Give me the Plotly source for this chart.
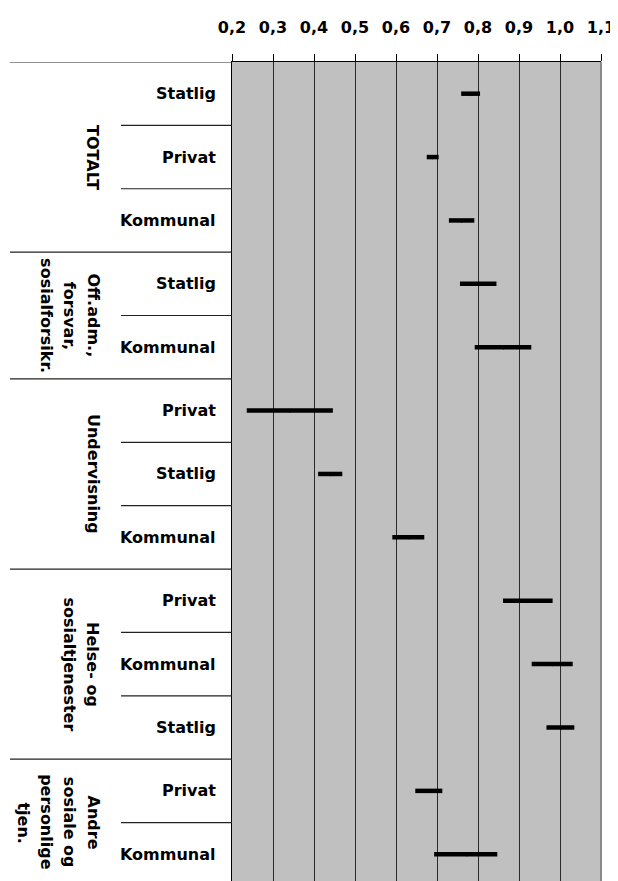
import plotly.graph_objects as go

# ---- data ----
group_names = [
    ["TOTALT"],
    ["Off.adm.,", "forsvar,", "sosialforsikr."],
    ["Undervisning"],
    ["Helse- og", "sosialtjenester"],
    ["Andre", "sosiale og", "personlige", "tjen."],
]
group_sizes = [3, 2, 3, 3, 2]
categories = ["Statlig", "Privat", "Kommunal",
              "Statlig", "Kommunal",
              "Privat", "Statlig", "Kommunal",
              "Privat", "Kommunal", "Statlig",
              "Privat", "Kommunal"]
low = [0.759, 0.675, 0.729, 0.756, 0.792, 0.236, 0.410, 0.591, 0.861, 0.931, 0.967, 0.647, 0.693]
mid = [0.783, 0.689, 0.760, 0.803, 0.862, 0.342, 0.440, 0.632, 0.921, 0.981, 1.003, 0.682, 0.773]
high = [0.805, 0.704, 0.791, 0.845, 0.930, 0.446, 0.469, 0.669, 0.982, 1.031, 1.035, 0.713, 0.847]
x_ticks = [0.2, 0.3, 0.4, 0.5, 0.6, 0.7, 0.8, 0.9, 1.0, 1.1]

# ---- layout constants (page body has an 8px default margin) ----
OFF = 8
W, H = 618 - OFF, 881 - OFF
ML, MR, MT, MB = 232 - OFF, 17, 62 - OFF, 0
PW = W - ML - MR
ROW_H = 63.38
FONT = "DejaVu Sans, Liberation Sans, sans-serif"
FS = 16

rows = list(range(len(categories)))
y_bottom = -0.5 + (H - MT - MB) / ROW_H

fig = go.Figure()
fig.add_trace(go.Scatter(
    x=mid, y=rows, mode="markers",
    marker=dict(symbol="triangle-down", size=5, color="black"),
    error_x=dict(type="data", symmetric=False,
                 array=[h - m for h, m in zip(high, mid)],
                 arrayminus=[m - l for m, l in zip(mid, low)],
                 color="black", thickness=4.5, width=0),
    showlegend=False, hoverinfo="skip",
))

shapes = []
annotations = []

def px_to_paper(px):
    return (px - OFF - ML) / PW

# row labels and separators
for i, cat in enumerate(categories):
    annotations.append(dict(
        x=0, xref="paper", y=i, yref="y", text=cat, showarrow=False,
        xanchor="right", yanchor="middle", xshift=-14,
        font=dict(family=FONT, size=FS, color="black", weight="bold"),
    ))

group_starts = []
s = 0
for g in group_sizes:
    group_starts.append(s)
    s += g

for k in range(len(categories)):
    yb = k - 0.5
    x0 = px_to_paper(10) if k in group_starts else px_to_paper(121)
    shapes.append(dict(type="line", xref="paper", yref="y", x0=x0, x1=0,
                       y0=yb, y1=yb, line=dict(color="#222", width=1.2)))

# group labels (rotated, one annotation per line)
for gi, lines in enumerate(group_names):
    start = group_starts[gi]
    center_y = start + (group_sizes[gi] - 1) / 2
    for j, line in enumerate(lines):
        cx = 93 - j * 23.3
        annotations.append(dict(
            x=0, xref="paper", y=center_y, yref="y", text=line,
            showarrow=False, textangle=90, xanchor="center", yanchor="middle",
            xshift=cx - OFF - ML,
            font=dict(family=FONT, size=FS, color="black", weight="bold"),
        ))

# right plot border (light gray)
shapes.append(dict(type="line", xref="paper", yref="paper", x0=1, x1=1, y0=0, y1=1,
                   line=dict(color="#8a8a8a", width=2), layer="above"))

fig.update_layout(
    width=W, height=H,
    margin=dict(l=ML, r=MR, t=MT, b=MB, pad=0),
    paper_bgcolor="white", plot_bgcolor="#C0C0C0",
    separators=", ",
    xaxis=dict(side="top", range=[0.2, 1.1], tickvals=x_ticks,
               tickformat=".1f", ticks="outside", ticklen=7, tickcolor="black",
               tickwidth=1, showline=True, linecolor="black", linewidth=1,
               showgrid=True, gridcolor="#2a2a2a", gridwidth=1, zeroline=False,
               ticklabelstandoff=15,
               tickfont=dict(family=FONT, size=FS, color="black", weight="bold")),
    yaxis=dict(range=[y_bottom, -0.5], showticklabels=False, ticks="",
               showgrid=False, zeroline=False, showline=True, linecolor="black",
               linewidth=1),
    shapes=shapes, annotations=annotations,
)

fig.write_html("out.html")
